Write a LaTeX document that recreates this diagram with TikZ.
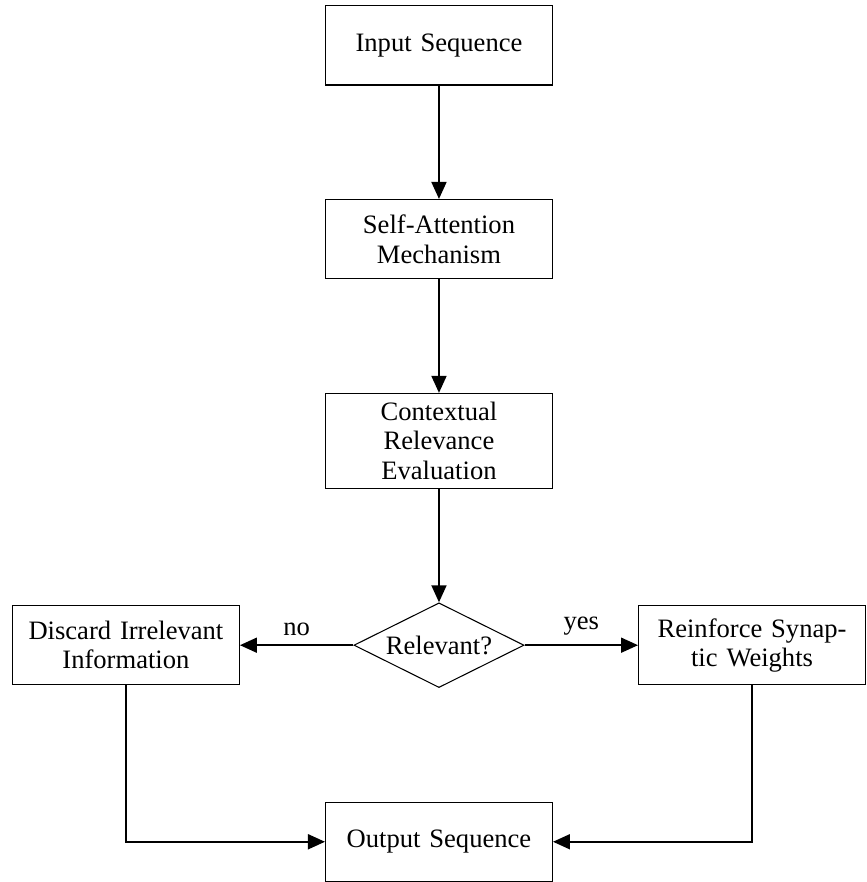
\documentclass[tikz,border=0pt]{standalone}
\usepackage{fontspec}
\setmainfont{Liberation Serif}
\usetikzlibrary{arrows.meta,positioning,shapes.geometric}
\tikzset{
	process/.style={draw, rectangle, text width=2.6cm, minimum width=3cm, minimum height=1.05cm, align=center},
	decision/.style={draw, diamond, aspect=2, minimum width=2.25cm, minimum height=1.12cm, inner sep=0pt},
	flow/.style={thick, -{Triangle[length=6.4pt,width=5.6pt]}}
}

\begin{document}
\begin{tikzpicture}[font=\fontsize{10}{11}\selectfont, node distance=1.5cm]
			\node[process] (input) {Input Sequence};
			\node[process, below=of input] (attention) {Self-Attention Mechanism};
			\node[process, below=of attention] (context) {Contextual Relevance Evaluation};
			\node[decision, below=of context] (relevant) {Relevant?};
			
			\node[process, left=of relevant] (discard) {Discard Irrelevant Information};
			\node[process, right=of relevant] (reinforce) {Reinforce Synap-\\tic Weights};
			\node[process, below=of relevant] (output) {Output Sequence};
			
			\draw[flow] (input) -- (attention);
			\draw[flow] (attention) -- (context);
			\draw[flow] (context) -- (relevant);
			
			\draw[flow] (relevant) -- node[above] {no} (discard);
			\draw[flow] (relevant) -- node[above] {yes} (reinforce);
			
			\draw[flow] (discard) |- (output);
			\draw[flow] (reinforce) |- (output);
			
			% margins
			\path ([xshift=-4.5pt]discard.west) ([yshift=1.9pt]input.north);
		\end{tikzpicture}
\end{document}
